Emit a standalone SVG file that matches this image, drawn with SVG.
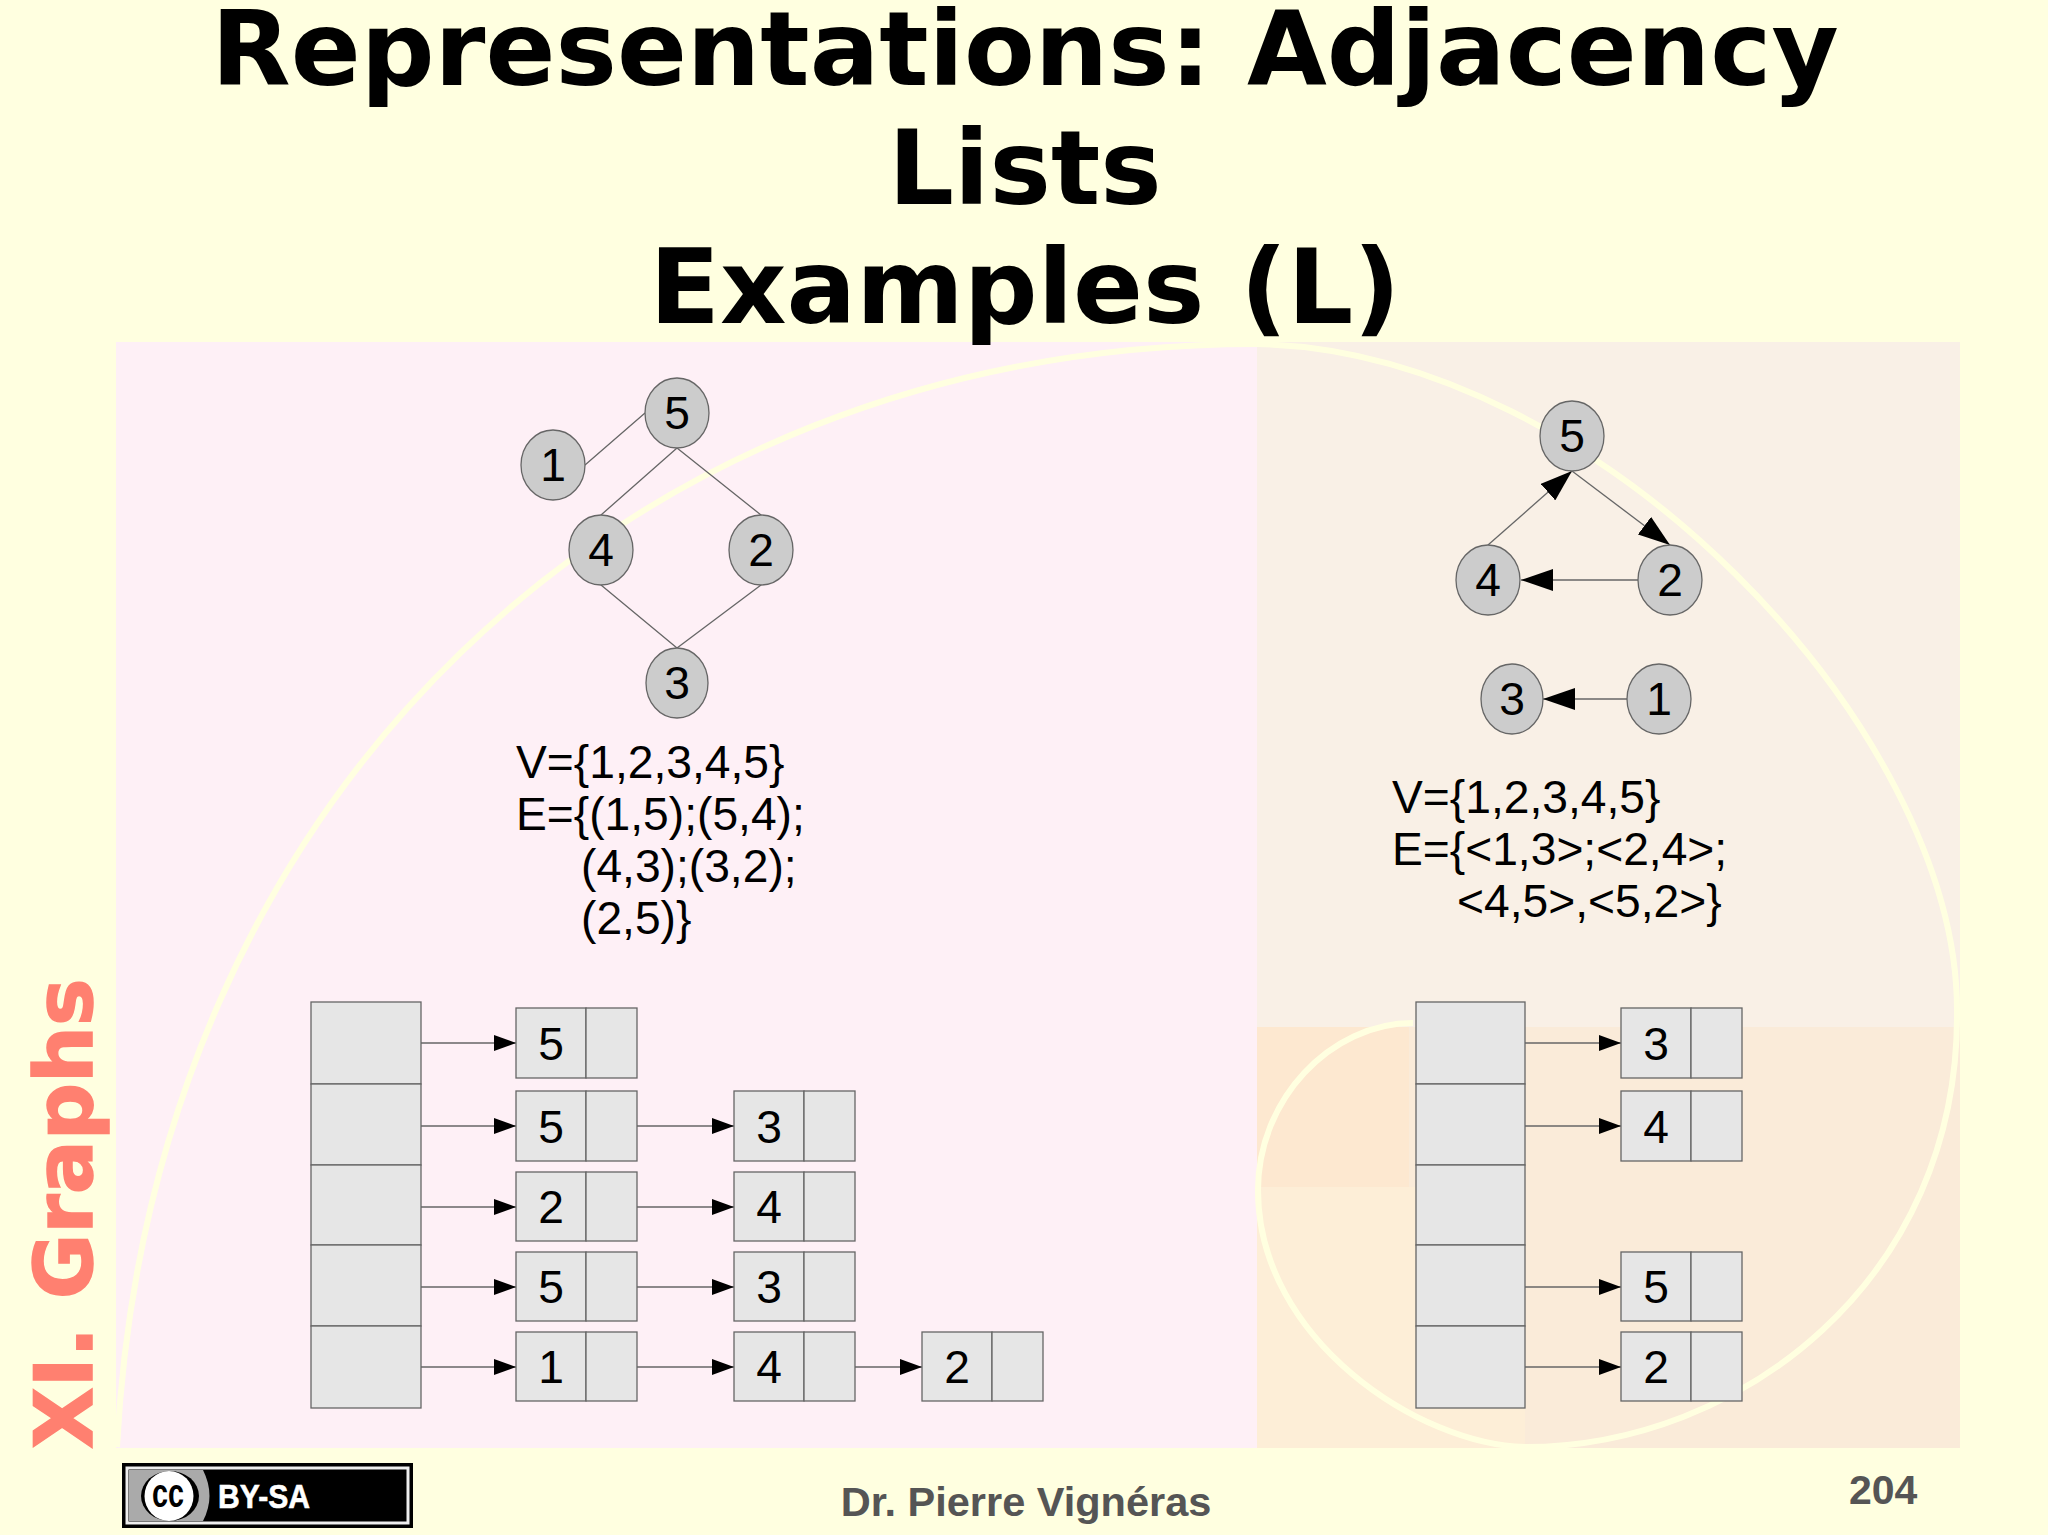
<svg xmlns="http://www.w3.org/2000/svg" width="2048" height="1535" viewBox="0 0 2048 1535">
<style>
.title{font:bold 103.2px "DejaVu Sans",sans-serif;fill:#000;text-anchor:middle}
.t{font:46.2px "Liberation Sans",Arial,sans-serif;fill:#000}
.c{text-anchor:middle}
.n{fill:#ccc;stroke:#666;stroke-width:1.3}
.b{fill:#e6e6e6;stroke:#666;stroke-width:1.3}
.e{fill:none;stroke:#666;stroke-width:1.3}
.foot{font:bold 41px "Liberation Sans",Arial,sans-serif;fill:#555}
</style>
<defs>
<marker id="small" markerUnits="userSpaceOnUse" markerWidth="22" markerHeight="16" refX="22" refY="8" orient="auto"><path d="M0 0L22 8L0 16Z" fill="#000"/></marker>
<marker id="big" markerUnits="userSpaceOnUse" markerWidth="32" markerHeight="22" refX="32" refY="11" orient="auto"><path d="M0 0L32 11L0 22Z" fill="#000"/></marker>
</defs>
<rect width="2048" height="1535" fill="#ffffe0"/>
<g id="background">
<rect x="116" y="342" width="1141" height="1106" fill="#fef0f6"/>
<rect x="1257" y="342" width="703" height="685" fill="#f9f0e6"/>
<rect x="1257" y="1027" width="703" height="421" fill="#faebd9"/>
<rect x="1257" y="1187" width="268" height="261" fill="#fdeed7"/>
<rect x="1257" y="1027" width="152" height="160" fill="#fde8d0"/>
<path d="M117 1447C150 800 620 344 1257 344C1600 350 1957 730 1957 1010C1960 1280 1740 1447 1525 1447C1420 1445 1258 1340 1258 1190C1258 1100 1330 1023 1413 1023" fill="none" stroke="#ffffe0" stroke-width="6"/>
</g>
<g id="heading">
<text class="title" x="1025" y="85">Representations: Adjacency</text>
<text class="title" x="1025" y="204">Lists</text>
<text class="title" x="1025" y="323">Examples (L)</text>
</g>
<text id="section" transform="translate(92 1449) rotate(-90)" style="font:bold 80px 'DejaVu Sans',sans-serif;fill:#ff8070;stroke:#ff8070;stroke-width:1.500">XI. Graphs</text>

<g id="connectors">
<path class="e" d="M585 465L645 413M677 448L601 515M677 448L761 515M601 585L677 648M761 585L677 648"/>
<path class="e" marker-end="url(#big)" d="M1488 545L1572 471"/>
<path class="e" marker-end="url(#big)" d="M1572 471L1670 545"/>
<path class="e" marker-end="url(#big)" d="M1638 580H1521"/>
<path class="e" marker-end="url(#big)" d="M1627 699H1543"/>
<path class="e" marker-end="url(#small)" d="M421 1043H516"/>
<path class="e" marker-end="url(#small)" d="M421 1126H516"/>
<path class="e" marker-end="url(#small)" d="M421 1207H516"/>
<path class="e" marker-end="url(#small)" d="M421 1287H516"/>
<path class="e" marker-end="url(#small)" d="M421 1367H516"/>
<path class="e" marker-end="url(#small)" d="M637 1126H734"/>
<path class="e" marker-end="url(#small)" d="M637 1207H734"/>
<path class="e" marker-end="url(#small)" d="M637 1287H734"/>
<path class="e" marker-end="url(#small)" d="M637 1367H734"/>
<path class="e" marker-end="url(#small)" d="M855 1367H922"/>
<path class="e" marker-end="url(#small)" d="M1525 1043H1621"/>
<path class="e" marker-end="url(#small)" d="M1525 1126H1621"/>
<path class="e" marker-end="url(#small)" d="M1525 1287H1621"/>
<path class="e" marker-end="url(#small)" d="M1525 1367H1621"/>
</g>

<g id="u5"><ellipse class="n" cx="677" cy="413" rx="32" ry="35"/><text class="t c" x="677" y="429">5</text></g>
<g id="u1"><ellipse class="n" cx="553" cy="465" rx="32" ry="35"/><text class="t c" x="553" y="481">1</text></g>
<g id="u4"><ellipse class="n" cx="601" cy="550" rx="32" ry="35"/><text class="t c" x="601" y="566">4</text></g>
<g id="u2"><ellipse class="n" cx="761" cy="550" rx="32" ry="35"/><text class="t c" x="761" y="566">2</text></g>
<g id="u3"><ellipse class="n" cx="677" cy="683" rx="31" ry="35"/><text class="t c" x="677" y="699">3</text></g>

<g id="d5"><ellipse class="n" cx="1572" cy="436" rx="32" ry="35"/><text class="t c" x="1572" y="452">5</text></g>
<g id="d4"><ellipse class="n" cx="1488" cy="580" rx="32" ry="35"/><text class="t c" x="1488" y="596">4</text></g>
<g id="d2"><ellipse class="n" cx="1670" cy="580" rx="32" ry="35"/><text class="t c" x="1670" y="596">2</text></g>
<g id="d3"><ellipse class="n" cx="1512" cy="699" rx="31" ry="35"/><text class="t c" x="1512" y="715">3</text></g>
<g id="d1"><ellipse class="n" cx="1659" cy="699" rx="32" ry="35"/><text class="t c" x="1659" y="715">1</text></g>

<g id="u-sets">
<text class="t" x="516" y="778">V={1,2,3,4,5}</text>
<text class="t" x="516" y="830">E={(1,5);(5,4);</text>
<text class="t" x="581" y="882">(4,3);(3,2);</text>
<text class="t" x="581" y="934">(2,5)}</text>
</g>
<g id="d-sets">
<text class="t" x="1392" y="813">V={1,2,3,4,5}</text>
<text class="t" x="1392" y="865">E={&lt;1,3&gt;;&lt;2,4&gt;;</text>
<text class="t" x="1457" y="917">&lt;4,5&gt;,&lt;5,2&gt;}</text>
</g>

<g id="u-table">
<rect class="b" x="311" y="1002" width="110" height="82"/>
<rect class="b" x="311" y="1084" width="110" height="81"/>
<rect class="b" x="311" y="1165" width="110" height="80"/>
<rect class="b" x="311" y="1245" width="110" height="81"/>
<rect class="b" x="311" y="1326" width="110" height="82"/>
</g>
<g id="d-table">
<rect class="b" x="1416" y="1002" width="109" height="82"/>
<rect class="b" x="1416" y="1084" width="109" height="81"/>
<rect class="b" x="1416" y="1165" width="109" height="80"/>
<rect class="b" x="1416" y="1245" width="109" height="81"/>
<rect class="b" x="1416" y="1326" width="109" height="82"/>
</g>

<g id="u1a"><rect class="b" x="516" y="1008" width="70" height="70"/><rect class="b" x="586" y="1008" width="51" height="70"/><text class="t c" x="551" y="1060">5</text></g>
<g id="u2a"><rect class="b" x="516" y="1091" width="70" height="70"/><rect class="b" x="586" y="1091" width="51" height="70"/><text class="t c" x="551" y="1143">5</text></g>
<g id="u3a"><rect class="b" x="516" y="1172" width="70" height="69"/><rect class="b" x="586" y="1172" width="51" height="69"/><text class="t c" x="551" y="1223">2</text></g>
<g id="u4a"><rect class="b" x="516" y="1252" width="70" height="69"/><rect class="b" x="586" y="1252" width="51" height="69"/><text class="t c" x="551" y="1303">5</text></g>
<g id="u5a"><rect class="b" x="516" y="1332" width="70" height="69"/><rect class="b" x="586" y="1332" width="51" height="69"/><text class="t c" x="551" y="1383">1</text></g>
<g id="u2b"><rect class="b" x="734" y="1091" width="70" height="70"/><rect class="b" x="804" y="1091" width="51" height="70"/><text class="t c" x="769" y="1143">3</text></g>
<g id="u3b"><rect class="b" x="734" y="1172" width="70" height="69"/><rect class="b" x="804" y="1172" width="51" height="69"/><text class="t c" x="769" y="1223">4</text></g>
<g id="u4b"><rect class="b" x="734" y="1252" width="70" height="69"/><rect class="b" x="804" y="1252" width="51" height="69"/><text class="t c" x="769" y="1303">3</text></g>
<g id="u5b"><rect class="b" x="734" y="1332" width="70" height="69"/><rect class="b" x="804" y="1332" width="51" height="69"/><text class="t c" x="769" y="1383">4</text></g>
<g id="u5c"><rect class="b" x="922" y="1332" width="70" height="69"/><rect class="b" x="992" y="1332" width="51" height="69"/><text class="t c" x="957" y="1383">2</text></g>

<g id="d1a"><rect class="b" x="1621" y="1008" width="70" height="70"/><rect class="b" x="1691" y="1008" width="51" height="70"/><text class="t c" x="1656" y="1060">3</text></g>
<g id="d2a"><rect class="b" x="1621" y="1091" width="70" height="70"/><rect class="b" x="1691" y="1091" width="51" height="70"/><text class="t c" x="1656" y="1143">4</text></g>
<g id="d4a"><rect class="b" x="1621" y="1252" width="70" height="69"/><rect class="b" x="1691" y="1252" width="51" height="69"/><text class="t c" x="1656" y="1303">5</text></g>
<g id="d5a"><rect class="b" x="1621" y="1332" width="70" height="69"/><rect class="b" x="1691" y="1332" width="51" height="69"/><text class="t c" x="1656" y="1383">2</text></g>

<g id="badge">
<rect x="122" y="1463" width="291" height="65" fill="#000"/>
<rect x="127" y="1468" width="281" height="55" fill="#000" stroke="#eee" stroke-width="3"/>
<path d="M129 1470H203Q216 1496 203 1521H129Z" fill="#aaa"/>
<ellipse cx="170" cy="1496" rx="29" ry="25" fill="#000"/>
<ellipse cx="169" cy="1496" rx="24.500" ry="25" fill="#fff"/>
<text x="168" y="1507" text-anchor="middle" textLength="32" lengthAdjust="spacingAndGlyphs" style="font:bold 40px 'Liberation Sans',Arial,sans-serif;fill:#000">cc</text>
<text x="218" y="1508" textLength="92" lengthAdjust="spacingAndGlyphs" style="font:bold 33px 'Liberation Sans',Arial,sans-serif;fill:#fff;stroke:#fff;stroke-width:.6">BY-SA</text>
</g>
<g id="footer">
<text class="foot" x="1026" y="1516" text-anchor="middle" style="font-size:41.500px">Dr. Pierre Vignéras</text>
<text class="foot" x="1849" y="1504">204</text>
</g>
</svg>
